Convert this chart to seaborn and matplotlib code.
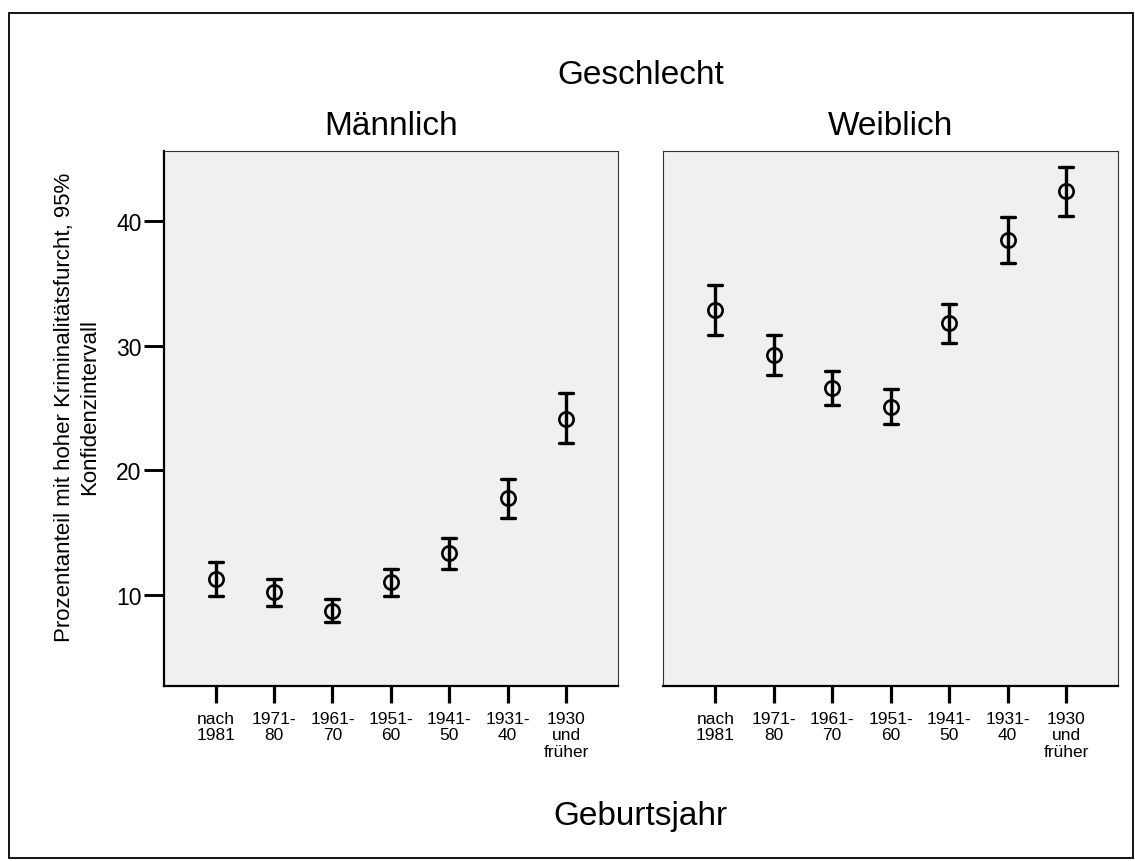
import pandas as pd
import matplotlib
matplotlib.use("Agg")
import matplotlib.pyplot as plt
from matplotlib.patches import Rectangle
import seaborn as sns

# Geburtsjahr categories (x axis) and panels
birth_groups = ["nach\n1981", "1971-\n80", "1961-\n70", "1951-\n60",
                "1941-\n50", "1931-\n40", "1930\nund\nfrüher"]
panels = ["Männlich", "Weiblich"]

# percentage with high fear of crime, with 95% CI bounds
male_pct = [11.3, 10.2, 8.7, 11.0, 13.4, 17.8, 24.1]
male_lo = [9.95, 9.1, 7.8, 9.9, 12.1, 16.2, 22.2]
male_hi = [12.65, 11.3, 9.65, 12.1, 14.6, 19.3, 26.2]

female_pct = [32.9, 29.3, 26.6, 25.1, 31.85, 38.5, 42.4]
female_lo = [30.9, 27.7, 25.25, 23.7, 30.25, 36.65, 40.4]
female_hi = [34.9, 30.9, 28.0, 26.55, 33.4, 40.35, 44.35]

y_ticks = [10, 20, 30, 40]

# long table: lower bound, estimate, upper bound per group
rows = []
for panel, pct, lo, hi in [(panels[0], male_pct, male_lo, male_hi),
                           (panels[1], female_pct, female_lo, female_hi)]:
    for g, p, l, h in zip(birth_groups, pct, lo, hi):
        for v in (l, p, h):
            rows.append({"Geschlecht": panel, "Geburtsjahr": g, "value": v})
df = pd.DataFrame(rows)

sns.set_style("white")
plt.rcParams["font.family"] = ["Liberation Sans", "DejaVu Sans"]
plt.rcParams["text.color"] = "black"
plt.rcParams["xtick.color"] = "black"
plt.rcParams["ytick.color"] = "black"

W, H = 1135, 862
fig = plt.figure(figsize=(W / 100, H / 100), dpi=100)


def px_box(l, t, r, b):
    return [l / W, 1 - b / H, (r - l) / W, (b - t) / H]


ax1 = fig.add_axes(px_box(163.7, 152, 618, 686.7))
ax2 = fig.add_axes(px_box(663.3, 152, 1118, 686.7))

for ax, panel in zip([ax1, ax2], panels):
    sub = df[df["Geschlecht"] == panel]
    sns.pointplot(data=sub, x="Geburtsjahr", y="value", order=birth_groups,
                  estimator="median",
                  errorbar=lambda v: (v.min(), v.max()),
                  linestyle="none", marker="o", markersize=10.3,
                  markeredgewidth=1.9, color="black", capsize=0.24,
                  err_kws={"linewidth": 2.4}, ax=ax)
    for ln in ax.lines:
        ln.set_markerfacecolor("none")

    ax.set_facecolor("#f0f0f0")
    ax.set_xlim(-0.89, 6.89)
    ax.set_ylim(2.71, 45.65)
    ax.set_yticks(y_ticks)
    ax.set_xlabel("")
    ax.set_ylabel("")
    for s in ["top", "right", "left"]:
        ax.spines[s].set_color("#333333")
        ax.spines[s].set_linewidth(0.8)
    ax.spines["bottom"].set_color("black")
    ax.spines["bottom"].set_linewidth(1.6)
    ax.tick_params(axis="x", length=12, width=2.3, color="black",
                   labelsize=12.5, pad=6, direction="out", bottom=True)
    for t in ax.get_xticklabels():
        t.set_linespacing(1.15)
    # panel title above the plot box
    fig.text((ax.get_position().x0 + ax.get_position().x1) / 2, 1 - 135 / H,
             panel, fontsize=24, ha="center", va="baseline")

ax1.spines["left"].set_color("black")
ax1.spines["left"].set_linewidth(1.6)
ax1.tick_params(axis="y", length=14.4, width=2.1, color="black",
                labelsize=16.5, pad=1.5, direction="out", left=True)
ax2.tick_params(axis="y", left=False, labelleft=False)

fig.text(640.7 / W, 1 - 84 / H, "Geschlecht", fontsize=24,
         ha="center", va="baseline")
fig.text(640.7 / W, 1 - 825 / H, "Geburtsjahr", fontsize=24,
         ha="center", va="baseline")
fig.text(77 / W, 1 - 407 / H,
         "Prozentanteil mit hoher Kriminalitätsfurcht, 95%\nKonfidenzintervall",
         fontsize=16, rotation=90, ha="center", va="center",
         multialignment="center", linespacing=1.3)

# outer frame of the chart
fig.patches.append(Rectangle((8.5 / W, 1 - 859 / H), (1133 - 8.5) / W,
                             (859 - 14) / H, transform=fig.transFigure,
                             fill=False, edgecolor="black", linewidth=1.3))

fig.savefig("out.png", dpi=100)
